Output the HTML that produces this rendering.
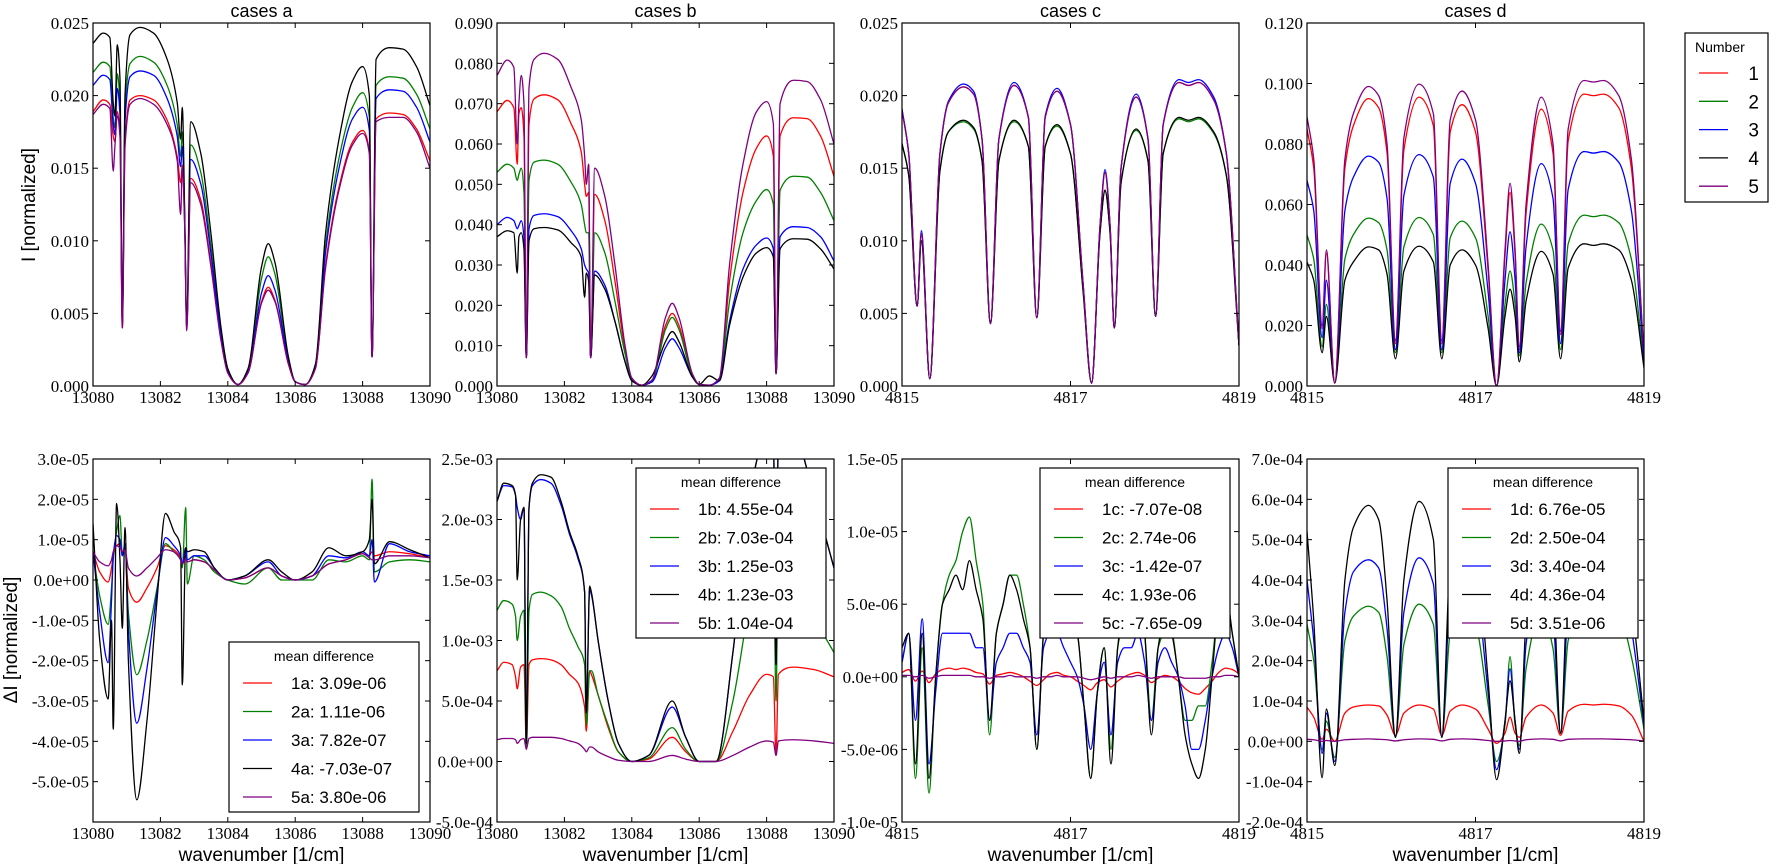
<!DOCTYPE html>
<html><head><meta charset="utf-8"><style>
html,body{margin:0;padding:0;background:#fff;}
svg{display:block;}
</style></head><body>
<svg id="fig" width="1770" height="864" viewBox="0 0 1770 864" xmlns="http://www.w3.org/2000/svg"></svg>
<script>
// ---------- DATA ----------
const xGridAB = [13080,13080.3,13080.5,13080.6,13080.65,13080.72,13080.8,13080.87,13080.95,13081.1,13081.4,13081.8,13082.2,13082.5,13082.6,13082.65,13082.72,13082.78,13082.9,13083.2,13083.5,13083.8,13084.0,13084.3,13084.6,13085.0,13085.2,13085.4,13085.8,13086.0,13086.3,13086.6,13086.9,13087.3,13087.7,13088.0,13088.2,13088.28,13088.4,13088.8,13089.2,13089.6,13090];
const topA_black = [0.0236,0.0243,0.024,0.0195,0.0186,0.0235,0.0212,0.0045,0.02,0.0242,0.0247,0.0243,0.0225,0.0195,0.017,0.0192,0.012,0.0045,0.0182,0.016,0.0105,0.004,0.0012,0.0001,0.0012,0.0082,0.0098,0.0085,0.002,0.0003,0.0001,0.0015,0.0105,0.017,0.021,0.022,0.02,0.002,0.0225,0.0233,0.0232,0.022,0.0193];
const topA_green = [0.0216,0.0223,0.022,0.0185,0.0178,0.0215,0.0195,0.0043,0.019,0.0222,0.0227,0.0223,0.0207,0.018,0.0158,0.0175,0.0118,0.0042,0.0166,0.0147,0.0096,0.0037,0.0011,0.0001,0.0011,0.0074,0.0089,0.0077,0.0018,0.0003,0.0001,0.0014,0.0096,0.0157,0.0192,0.0202,0.0185,0.002,0.0207,0.0213,0.0212,0.0201,0.0177];
const topA_blue = [0.0207,0.0214,0.0211,0.018,0.0173,0.0205,0.0187,0.0042,0.0182,0.0213,0.0217,0.0214,0.0198,0.0172,0.0151,0.0165,0.0115,0.0041,0.0156,0.0139,0.0091,0.0035,0.001,0.0001,0.001,0.0064,0.0076,0.0066,0.0017,0.0003,0.0001,0.0013,0.0092,0.015,0.0184,0.0192,0.0176,0.002,0.0198,0.0204,0.0203,0.0192,0.0168];
const topA_red = [0.0189,0.0197,0.0194,0.0172,0.0168,0.0189,0.0175,0.004,0.0168,0.0197,0.02,0.0197,0.0183,0.0158,0.014,0.0152,0.0112,0.004,0.0143,0.0128,0.0084,0.0032,0.0009,0.0001,0.0009,0.0058,0.0068,0.0059,0.0015,0.0003,0.0001,0.0012,0.0083,0.0137,0.0168,0.0176,0.0162,0.002,0.0184,0.0188,0.0187,0.0177,0.0155];
const topA_purple = [0.0187,0.0194,0.0191,0.0148,0.0165,0.0186,0.0172,0.004,0.0165,0.0194,0.0198,0.0194,0.018,0.0155,0.0118,0.015,0.011,0.0038,0.014,0.0125,0.0082,0.0031,0.0009,0.0001,0.0009,0.0057,0.0066,0.0058,0.0015,0.0003,0.0001,0.0012,0.0081,0.0135,0.0166,0.0174,0.016,0.002,0.0182,0.0185,0.0185,0.0175,0.015];

const topB_purple = [0.077,0.0808,0.079,0.06,0.07,0.077,0.07,0.007,0.074,0.081,0.0825,0.081,0.074,0.066,0.057,0.05,0.055,0.007,0.054,0.047,0.03,0.01,0.002,0.0002,0.0015,0.017,0.0205,0.017,0.003,0.0004,0.0002,0.002,0.03,0.055,0.068,0.0705,0.065,0.003,0.07,0.0758,0.0755,0.071,0.06];
const topB_red = [0.068,0.0708,0.069,0.055,0.0675,0.069,0.062,0.007,0.065,0.0712,0.0722,0.071,0.065,0.058,0.05,0.047,0.048,0.007,0.0475,0.041,0.026,0.009,0.0018,0.0002,0.0013,0.015,0.018,0.015,0.0027,0.0004,0.0002,0.0018,0.026,0.048,0.059,0.062,0.057,0.003,0.062,0.0665,0.0663,0.062,0.052];
const topB_green = [0.053,0.055,0.054,0.051,0.0525,0.054,0.048,0.007,0.051,0.0555,0.056,0.055,0.0505,0.045,0.04,0.038,0.038,0.007,0.038,0.033,0.021,0.008,0.0016,0.0002,0.0012,0.014,0.017,0.014,0.0025,0.0004,0.0002,0.0016,0.021,0.038,0.046,0.0487,0.045,0.003,0.0485,0.052,0.0518,0.048,0.041];
const topB_blue = [0.04,0.0418,0.041,0.039,0.0398,0.041,0.037,0.007,0.039,0.0423,0.0427,0.042,0.0385,0.034,0.03,0.029,0.028,0.007,0.0285,0.025,0.016,0.006,0.0013,0.0002,0.001,0.0095,0.0117,0.0095,0.0022,0.0004,0.0002,0.0013,0.016,0.029,0.035,0.0367,0.034,0.003,0.037,0.0395,0.0393,0.037,0.031];
const topB_black = [0.037,0.0385,0.038,0.028,0.037,0.038,0.034,0.007,0.036,0.039,0.0393,0.0387,0.0355,0.032,0.022,0.028,0.026,0.007,0.0275,0.024,0.016,0.006,0.0013,0.0002,0.0025,0.011,0.0135,0.011,0.0022,0.0004,0.0025,0.0013,0.015,0.027,0.033,0.0343,0.032,0.003,0.034,0.0365,0.0364,0.034,0.029];

const xGridCD = [4815,4815.08,4815.18,4815.23,4815.33,4815.45,4815.55,4815.73,4815.85,4815.95,4816.05,4816.15,4816.33,4816.5,4816.6,4816.7,4816.84,4817.0,4817.15,4817.25,4817.35,4817.41,4817.47,4817.52,4817.6,4817.78,4817.92,4818.01,4818.1,4818.29,4818.4,4818.52,4818.7,4818.85,4819];
const topC_red = [0.019,0.016,0.0055,0.0105,0.0005,0.016,0.0195,0.0206,0.0201,0.017,0.0043,0.017,0.0207,0.0185,0.0047,0.0185,0.0203,0.018,0.007,0.0002,0.011,0.0147,0.011,0.004,0.015,0.0199,0.017,0.0048,0.018,0.0209,0.0207,0.0209,0.0197,0.016,0.0028];
const topC_blue = [0.0191,0.016,0.0055,0.0107,0.0005,0.016,0.0196,0.0208,0.0203,0.017,0.0043,0.017,0.0209,0.0185,0.0047,0.0186,0.0205,0.018,0.007,0.0002,0.011,0.0149,0.011,0.004,0.015,0.0201,0.017,0.0048,0.018,0.0211,0.0209,0.0211,0.0199,0.016,0.0028];
const topC_purple = [0.019,0.016,0.0055,0.0105,0.0005,0.016,0.0195,0.0206,0.0201,0.017,0.0043,0.017,0.0207,0.0185,0.0047,0.0185,0.0203,0.018,0.007,0.0002,0.011,0.0147,0.011,0.004,0.015,0.0199,0.017,0.0048,0.018,0.0209,0.0207,0.0209,0.0197,0.016,0.0028];
const topC_green = [0.0167,0.0145,0.0055,0.01,0.0005,0.0148,0.0175,0.0182,0.0177,0.0155,0.0043,0.0155,0.0182,0.0165,0.0047,0.0165,0.0179,0.016,0.0065,0.0002,0.0105,0.0134,0.0105,0.004,0.014,0.0176,0.0155,0.0048,0.016,0.0184,0.0182,0.0184,0.0174,0.0145,0.0028];
const topC_black = [0.0167,0.0145,0.0055,0.01,0.0005,0.0148,0.0175,0.0183,0.0178,0.0155,0.0043,0.0155,0.0183,0.0165,0.0047,0.0165,0.018,0.016,0.0065,0.0002,0.0105,0.0135,0.0105,0.004,0.014,0.0177,0.0155,0.0048,0.016,0.0185,0.0183,0.0185,0.0175,0.0145,0.0028];

const topD_purple = [0.089,0.075,0.02,0.045,0.001,0.075,0.09,0.099,0.096,0.08,0.015,0.082,0.0998,0.09,0.015,0.088,0.0975,0.088,0.04,0.0,0.045,0.067,0.045,0.013,0.06,0.0955,0.08,0.018,0.085,0.101,0.1005,0.101,0.096,0.075,0.01];
const topD_red = [0.085,0.072,0.019,0.044,0.001,0.072,0.086,0.095,0.092,0.077,0.014,0.078,0.0955,0.086,0.014,0.084,0.093,0.084,0.038,0.0,0.043,0.064,0.043,0.012,0.057,0.0915,0.077,0.017,0.081,0.0965,0.096,0.0965,0.092,0.072,0.01];
const topD_blue = [0.068,0.058,0.016,0.035,0.001,0.058,0.069,0.076,0.074,0.062,0.012,0.063,0.0765,0.069,0.012,0.067,0.075,0.067,0.031,0.0,0.035,0.051,0.035,0.011,0.046,0.0735,0.062,0.014,0.065,0.0775,0.077,0.0775,0.074,0.058,0.008];
const topD_green = [0.05,0.042,0.013,0.027,0.001,0.042,0.05,0.0555,0.054,0.045,0.011,0.046,0.0557,0.05,0.011,0.049,0.0545,0.049,0.023,0.0,0.027,0.038,0.027,0.01,0.034,0.0535,0.045,0.012,0.047,0.0565,0.056,0.0565,0.054,0.042,0.007];
const topD_black = [0.041,0.035,0.011,0.023,0.001,0.035,0.041,0.046,0.045,0.037,0.009,0.038,0.0462,0.041,0.009,0.04,0.045,0.04,0.019,0.0,0.023,0.032,0.023,0.008,0.028,0.0445,0.037,0.009,0.039,0.047,0.0465,0.047,0.045,0.035,0.006];

const xGridDiffAB = [13080,13080.2,13080.45,13080.55,13080.6,13080.7,13080.8,13080.87,13080.95,13081.05,13081.3,13081.6,13081.9,13082.15,13082.4,13082.6,13082.65,13082.75,13082.8,13083.0,13083.3,13083.6,13084.0,13084.5,13085.2,13085.6,13086.0,13086.5,13087.0,13087.5,13088.0,13088.2,13088.28,13088.35,13088.8,13089.4,13090];
const diffA_red = [0.7,0.2,-0.05,0.3,0.6,0.85,0.9,0.7,0.8,-0.2,-0.55,-0.2,0.3,0.85,0.75,0.55,0.4,0.6,0.45,0.5,0.45,0.25,0.0,0.05,0.3,0.1,0.0,0.1,0.4,0.5,0.65,0.6,0.7,0.6,0.7,0.65,0.55];
const diffA_green = [0.7,-0.4,-1.1,-0.2,0.5,1.2,1.6,0.6,0.8,-0.8,-2.35,-1.5,-0.2,0.9,0.7,0.5,0.3,1.8,-0.1,0.6,0.5,0.2,0.0,-0.1,0.3,0.0,0.0,0.0,0.5,0.45,0.6,0.5,2.5,0.2,0.45,0.5,0.45];
const diffA_blue = [0.7,-0.8,-2.05,-0.5,0.6,1.1,1.0,0.6,0.9,-1.2,-3.55,-2.2,-0.3,1.05,0.85,0.6,0.4,0.8,0.5,0.6,0.6,0.3,0.0,0.1,0.45,0.1,0.0,0.1,0.6,0.55,0.7,0.6,1.0,-0.05,0.9,0.7,0.6];
const diffA_black = [1.4,-1.5,-2.95,-1.0,-3.7,1.9,0.5,-1.2,1.3,-2.0,-5.45,-3.5,-0.5,1.65,1.2,0.8,-2.6,0.8,0.7,0.75,0.7,0.3,0.0,0.1,0.5,0.2,0.0,0.2,0.8,0.6,0.7,1.0,2.0,0.4,0.95,0.75,0.55];
const diffA_purple = [0.7,0.45,0.35,0.5,0.7,0.85,0.8,0.7,0.75,0.3,0.1,0.3,0.55,0.75,0.7,0.5,0.4,0.5,0.45,0.5,0.45,0.25,0.0,0.05,0.3,0.1,0.0,0.1,0.4,0.5,0.65,0.55,0.5,0.5,0.6,0.6,0.55];
const diffB_red = [0.75,0.82,0.8,0.7,0.6,0.78,0.8,0.12,0.8,0.84,0.85,0.84,0.8,0.72,0.65,0.45,0.25,0.75,0.72,0.55,0.28,0.08,0.0,0.02,0.2,0.08,0.0,0.0,0.25,0.55,0.72,0.7,0.05,0.72,0.78,0.76,0.7];
const diffB_green = [1.25,1.33,1.3,1.2,1.0,1.2,1.25,0.1,1.25,1.38,1.4,1.37,1.28,1.1,0.95,0.8,0.3,0.75,0.75,0.55,0.3,0.08,0.0,0.03,0.28,0.1,0.0,0.0,0.5,1.3,1.8,1.8,0.5,1.9,1.6,1.2,0.9];
const diffB_blue = [2.15,2.28,2.27,2.2,2.1,2.0,2.1,0.15,2.1,2.28,2.33,2.3,2.12,1.88,1.68,1.4,0.4,1.42,1.38,1.0,0.5,0.15,0.0,0.05,0.45,0.2,0.0,0.0,0.9,2.2,2.7,2.7,0.8,2.7,2.7,2.2,1.6];
const diffB_black = [2.15,2.3,2.28,2.2,1.5,2.0,2.1,0.15,2.1,2.3,2.37,2.35,2.15,1.9,1.7,1.4,0.4,1.45,1.4,1.0,0.5,0.15,0.0,0.05,0.5,0.2,0.0,0.0,0.9,2.2,2.7,2.7,0.8,2.7,2.7,2.2,1.6];
const diffB_purple = [0.18,0.19,0.19,0.18,0.15,0.18,0.19,0.1,0.19,0.2,0.2,0.2,0.19,0.17,0.15,0.1,0.08,0.12,0.12,0.08,0.04,0.01,0.0,0.0,0.05,0.02,0.0,0.0,0.05,0.12,0.17,0.16,0.05,0.17,0.18,0.17,0.15];

const xGridDiffC = [4815,4815.08,4815.16,4815.24,4815.32,4815.4,4815.48,4815.56,4815.64,4815.72,4815.8,4815.88,4815.96,4816.04,4816.12,4816.2,4816.28,4816.36,4816.44,4816.52,4816.6,4816.68,4816.76,4816.84,4816.92,4817,4817.08,4817.16,4817.24,4817.32,4817.4,4817.48,4817.56,4817.64,4817.72,4817.8,4817.88,4817.96,4818.04,4818.12,4818.2,4818.28,4818.36,4818.44,4818.52,4818.6,4818.68,4818.76,4818.84,4818.92,4819];
const diffC_red = [0.3,0.5,-0.3,0.4,-0.4,0.2,0.5,0.6,0.5,0.6,0.5,0.3,0.2,-0.5,0.1,0.2,0.3,0.2,0,-0.3,-0.6,-0.2,0.2,0.3,0.1,0,-0.3,-0.6,-0.9,-0.4,-0.2,-0.7,-0.3,0,0.2,0.3,0.1,-0.4,-0.1,0.1,0,-0.3,-0.8,-1.1,-1.2,-0.8,-0.3,0.3,0.6,0.5,0.2];
const diffC_green = [1,3,-7,2,-8,0,5,7,8,10,11,8,5,-4,3,5,7,7,5,2,-5,3,6,8,6,4,3,-2,-7,-1,2,-5,2,4,5,6,3,-3,2,3,3,0,-3,-3,-2,-2,1,5,6,3,0];
const diffC_blue = [1,3,-3,4,-6,-1,3,3,3,3,3,2,2,-3,1,2,3,3,2,1,-4,2,3,3,2,1,0,-2,-5,-1,1,-4,1,2,2,3,1,-3,1,2,1,0,-2,-5,-5,-3,0,2,3,2,0];
const diffC_black = [2,3,-6,3,-7,0,5,6,7,6,8,6,4,-3,3,5,7,6,4,2,-5,3,6,7,5,4,3,-2,-7,-1,2,-6,2,5,5,6,3,-4,2,4,3,0,-4,-6,-7,-5,0,5,6,3,0];
const diffC_purple = [0.1,0.1,0,0.1,-0.1,0,0.1,0.1,0.1,0.1,0.1,0,0,-0.1,0,0,0.1,0,0,0,-0.1,0,0,0.1,0,0,0,-0.1,-0.2,-0.1,0,-0.1,0,0,0,0.1,0,-0.1,0,0,0,0,-0.1,-0.1,-0.1,-0.1,0,0,0.1,0.1,0];
const diffD_red = [0.85,0.6,0.05,0.3,0.0,0.7,0.85,0.9,0.88,0.65,0.15,0.7,0.9,0.8,0.15,0.75,0.9,0.8,0.3,-0.05,0.2,0.6,0.2,0.1,0.6,0.9,0.7,0.15,0.75,0.92,0.9,0.92,0.88,0.65,0.0];
const diffD_green = [2.9,2.0,-0.2,0.5,-0.4,2.5,3.1,3.35,3.2,2.1,0.1,2.4,3.4,2.9,0.1,2.7,3.35,2.9,0.9,-0.5,0.4,2.1,0.4,-0.1,1.8,3.2,2.3,0.2,2.5,3.45,3.35,3.45,3.2,2.1,0.3];
const diffD_blue = [4.0,2.5,-0.3,0.7,-0.5,3.2,4.2,4.5,4.3,2.8,0.1,3.2,4.55,3.9,0.1,3.6,4.5,3.9,1.2,-0.7,0.5,1.8,0.5,-0.2,2.4,4.3,3.1,0.2,3.3,4.6,4.5,4.6,4.3,2.8,0.4];
const diffD_black = [5.2,3.0,-0.9,0.8,-0.6,4.0,5.3,5.85,5.5,3.5,0.1,4.0,5.95,5.0,0.1,4.5,5.8,5.0,1.5,-0.95,0.5,1.5,0.5,-0.3,3.0,5.5,4.0,0.2,4.2,6.0,5.8,6.0,5.5,3.5,0.5];
const diffD_purple = [0.05,0.04,0.0,0.02,0.0,0.04,0.05,0.06,0.05,0.04,0.01,0.04,0.06,0.05,0.01,0.05,0.06,0.05,0.02,0.0,0.01,0.02,0.01,0.0,0.04,0.06,0.05,0.01,0.05,0.06,0.06,0.06,0.05,0.04,0.01];

const xTicksAB = [13080,13082,13084,13086,13088,13090];
const xTicksCD = [4815,4817,4819];
const yTicksTopA = [0,0.005,0.01,0.015,0.02,0.025];
const yLabelsTopA = ["0.000","0.005","0.010","0.015","0.020","0.025"];
const yTicksTopB = [0,0.01,0.02,0.03,0.04,0.05,0.06,0.07,0.08,0.09];
const yLabelsTopB = ["0.000","0.010","0.020","0.030","0.040","0.050","0.060","0.070","0.080","0.090"];
const yTicksTopD = [0,0.02,0.04,0.06,0.08,0.1,0.12];
const yLabelsTopD = ["0.000","0.020","0.040","0.060","0.080","0.100","0.120"];
const yTicksDiffA = [-5,-4,-3,-2,-1,0,1,2,3];
const yLabelsDiffA = ["-5.0e-05","-4.0e-05","-3.0e-05","-2.0e-05","-1.0e-05","0.0e+00","1.0e-05","2.0e-05","3.0e-05"];
const yTicksDiffB = [-0.5,0,0.5,1,1.5,2,2.5];
const yLabelsDiffB = ["-5.0e-04","0.0e+00","5.0e-04","1.0e-03","1.5e-03","2.0e-03","2.5e-03"];
const yTicksDiffC = [-10,-5,0,5,10,15];
const yLabelsDiffC = ["-1.0e-05","-5.0e-06","0.0e+00","5.0e-06","1.0e-05","1.5e-05"];
const yTicksDiffD = [-2,-1,0,1,2,3,4,5,6,7];
const yLabelsDiffD = ["-2.0e-04","-1.0e-04","0.0e+00","1.0e-04","2.0e-04","3.0e-04","4.0e-04","5.0e-04","6.0e-04","7.0e-04"];
const legendMeanA = ["1a: 3.09e-06","2a: 1.11e-06","3a: 7.82e-07","4a: -7.03e-07","5a: 3.80e-06"];
const legendMeanB = ["1b: 4.55e-04","2b: 7.03e-04","3b: 1.25e-03","4b: 1.23e-03","5b: 1.04e-04"];
const legendMeanC = ["1c: -7.07e-08","2c: 2.74e-06","3c: -1.42e-07","4c: 1.93e-06","5c: -7.65e-09"];
const legendMeanD = ["1d: 6.76e-05","2d: 2.50e-04","3d: 3.40e-04","4d: 4.36e-04","5d: 3.51e-06"];
const seriesNumbers = ["1","2","3","4","5"];

// ---------- DRAW ----------
const NS = "http://www.w3.org/2000/svg";
const svg = document.getElementById("fig");
const COL = {red:"#ff0000",green:"#008000",blue:"#0000ff",black:"#000000",purple:"#800080"};
const ORDER = ["red","green","blue","black","purple"];
function mk(tag, attrs, parent){
  const e = document.createElementNS(NS, tag);
  for (const k in attrs) e.setAttribute(k, attrs[k]);
  (parent||svg).appendChild(e);
  return e;
}
const defs = mk("defs", {});
let clipN = 0;

// monotone cubic (Fritsch-Carlson) path through pixel points
function smoothPath(px, py){
  const n = px.length;
  if (n < 3) return "M" + px.map((x,i)=>x+","+py[i]).join("L");
  const dx = [], s = [];
  for (let i = 0; i < n-1; i++){ dx.push(px[i+1]-px[i]); s.push((py[i+1]-py[i])/(px[i+1]-px[i])); }
  const m = new Array(n);
  m[0] = s[0]; m[n-1] = s[n-2];
  for (let i = 1; i < n-1; i++){
    if (s[i-1]*s[i] <= 0) m[i] = 0;
    else {
      const w1 = 2*dx[i] + dx[i-1], w2 = dx[i] + 2*dx[i-1];
      m[i] = (w1 + w2) / (w1/s[i-1] + w2/s[i]);
    }
  }
  let d = "M" + px[0].toFixed(2) + "," + py[0].toFixed(2);
  for (let i = 0; i < n-1; i++){
    const h = dx[i]/3;
    d += "C" + (px[i]+h).toFixed(2) + "," + (py[i]+m[i]*h).toFixed(2) + " " +
         (px[i+1]-h).toFixed(2) + "," + (py[i+1]-m[i+1]*h).toFixed(2) + " " +
         px[i+1].toFixed(2) + "," + py[i+1].toFixed(2);
  }
  return d;
}

function panel(opt){
  const L = opt.left, R = opt.left + 337, T = opt.top, B = opt.top + 363;
  const g = mk("g", {});
  
  
  const sx = v => L + (v - opt.xd[0]) / (opt.xd[1] - opt.xd[0]) * (R - L);
  const sy = v => B - (v - opt.yd[0]) / (opt.yd[1] - opt.yd[0]) * (B - T);
  const cid = "clip" + (clipN++);
  const cp = mk("clipPath", {id: cid}, defs);
  mk("rect", {x:L, y:T, width:R-L, height:B-T}, cp);
  const lg = mk("g", {"clip-path": "url(#" + cid + ")"}, g);
  ORDER.forEach(c => {
    const vals = opt.series[c];
    const px = opt.xs.map(sx), py = vals.map(sy);
    const p = mk("path", {d: smoothPath(px, py), fill: "none", stroke: COL[c], "stroke-width": 1.3, "stroke-linejoin": "round"}, lg);
    
    
  });
  const fr = mk("rect", {x:L, y:T, width:R-L, height:B-T, fill:"none", stroke:"#000", "stroke-width":1.2}, g);
  
  
  opt.xt.forEach(v => {
    const x = sx(v);
    mk("line", {x1:x, y1:B, x2:x, y2:B-5, stroke:"#000", "stroke-width":1}, g);
    mk("line", {x1:x, y1:T, x2:x, y2:T+5, stroke:"#000", "stroke-width":1}, g);
    const t = mk("text", {x:x, y:B+17, "text-anchor":"middle", "font-family":"Liberation Serif, serif", "font-size":17}, g);
    t.textContent = String(v);
    
    
  });
  opt.yt.forEach((v, i) => {
    const y = sy(v);
    mk("line", {x1:L, y1:y, x2:L+5, y2:y, stroke:"#000", "stroke-width":1}, g);
    mk("line", {x1:R, y1:y, x2:R-5, y2:y, stroke:"#000", "stroke-width":1}, g);
    const t = mk("text", {x:L-4, y:y+6, "text-anchor":"end", "font-family":"Liberation Serif, serif", "font-size":17}, g);
    t.textContent = opt.yl[i];
    
    
  });
  if (opt.title){
    const t = mk("text", {x:(L+R)/2, y:T-6, "text-anchor":"middle", "font-family":"Liberation Sans, sans-serif", "font-size":18}, g);
    t.textContent = opt.title;
    
    
  }
  if (opt.xlabel){
    const t = mk("text", {x:(L+R)/2, y:B+39, "text-anchor":"middle", "font-family":"Liberation Sans, sans-serif", "font-size":19}, g);
    t.textContent = opt.xlabel;
    
    
  }
  if (opt.legend){
    const lx = opt.legend.x, ly = opt.legend.y;
    const lgG = mk("g", {}, g);
    
    
    mk("rect", {x:lx, y:ly, width:190, height:170, fill:"#fff", stroke:"#000", "stroke-width":1.2}, lgG);
    const tt = mk("text", {x:lx+95, y:ly+19, "text-anchor":"middle", "font-family":"Liberation Sans, sans-serif", "font-size":14}, lgG);
    tt.textContent = "mean difference";
    ORDER.forEach((c, i) => {
      const yy = ly + 41 + i * 28.5;
      const ln = mk("line", {x1:lx+14, y1:yy, x2:lx+43, y2:yy, stroke:COL[c], "stroke-width":1.3}, lgG);
      
      
      const t = mk("text", {x:lx+62, y:yy+6, "font-family":"Liberation Sans, sans-serif", "font-size":17}, lgG);
      t.textContent = opt.legend.labels[i];
      
      
    });
  }
}

const lefts = [93, 497, 902, 1307];
panel({name:"panel-top-a", left:lefts[0], top:23, xd:[13080,13090], yd:[0,0.025], xs:xGridAB, xt:xTicksAB, yt:yTicksTopA, yl:yLabelsTopA, title:"cases a",
  series:{red:topA_red, green:topA_green, blue:topA_blue, black:topA_black, purple:topA_purple}});
panel({name:"panel-top-b", left:lefts[1], top:23, xd:[13080,13090], yd:[0,0.09], xs:xGridAB, xt:xTicksAB, yt:yTicksTopB, yl:yLabelsTopB, title:"cases b",
  series:{red:topB_red, green:topB_green, blue:topB_blue, black:topB_black, purple:topB_purple}});
panel({name:"panel-top-c", left:lefts[2], top:23, xd:[4815,4819], yd:[0,0.025], xs:xGridCD, xt:xTicksCD, yt:yTicksTopA, yl:yLabelsTopA, title:"cases c",
  series:{red:topC_red, green:topC_green, blue:topC_blue, black:topC_black, purple:topC_purple}});
panel({name:"panel-top-d", left:lefts[3], top:23, xd:[4815,4819], yd:[0,0.12], xs:xGridCD, xt:xTicksCD, yt:yTicksTopD, yl:yLabelsTopD, title:"cases d",
  series:{red:topD_red, green:topD_green, blue:topD_blue, black:topD_black, purple:topD_purple}});

panel({name:"panel-diff-a", left:lefts[0], top:459, xd:[13080,13090], yd:[-6,3], xs:xGridDiffAB, xt:xTicksAB, yt:yTicksDiffA, yl:yLabelsDiffA, xlabel:"wavenumber [1/cm]",
  series:{red:diffA_red, green:diffA_green, blue:diffA_blue, black:diffA_black, purple:diffA_purple}, legend:{x:229, y:642, labels:legendMeanA}});
panel({name:"panel-diff-b", left:lefts[1], top:459, xd:[13080,13090], yd:[-0.5,2.5], xs:xGridDiffAB, xt:xTicksAB, yt:yTicksDiffB, yl:yLabelsDiffB, xlabel:"wavenumber [1/cm]",
  series:{red:diffB_red, green:diffB_green, blue:diffB_blue, black:diffB_black, purple:diffB_purple}, legend:{x:636, y:468, labels:legendMeanB}});
panel({name:"panel-diff-c", left:lefts[2], top:459, xd:[4815,4819], yd:[-10,15], xs:xGridDiffC, xt:xTicksCD, yt:yTicksDiffC, yl:yLabelsDiffC, xlabel:"wavenumber [1/cm]",
  series:{red:diffC_red, green:diffC_green, blue:diffC_blue, black:diffC_black, purple:diffC_purple}, legend:{x:1040, y:468, labels:legendMeanC}});
panel({name:"panel-diff-d", left:lefts[3], top:459, xd:[4815,4819], yd:[-2,7], xs:xGridCD, xt:xTicksCD, yt:yTicksDiffD, yl:yLabelsDiffD, xlabel:"wavenumber [1/cm]",
  series:{red:diffD_red, green:diffD_green, blue:diffD_blue, black:diffD_black, purple:diffD_purple}, legend:{x:1448, y:468, labels:legendMeanD}});

const yt1 = mk("text", {x:0, y:0, transform:"translate(35,205) rotate(-90)", "text-anchor":"middle", "font-family":"Liberation Sans, sans-serif", "font-size":19});
yt1.textContent = "I [normalized]";


const yt2 = mk("text", {x:0, y:0, transform:"translate(17,640) rotate(-90)", "text-anchor":"middle", "font-family":"Liberation Sans, DejaVu Sans, sans-serif", "font-size":19});
yt2.textContent = "ΔI [normalized]";



const tl = mk("g", {});


mk("rect", {x:1685, y:33, width:83, height:169, fill:"#fff", stroke:"#000", "stroke-width":1.2}, tl);
const tlt = mk("text", {x:1695, y:52, "font-family":"Liberation Sans, sans-serif", "font-size":14}, tl);
tlt.textContent = "Number";
ORDER.forEach((c, i) => {
  const yy = 73 + i * 28.3;
  const ln = mk("line", {x1:1699, y1:yy, x2:1728, y2:yy, stroke:COL[c], "stroke-width":1.3}, tl);
  
  
  const t = mk("text", {x:1759, y:yy+7, "text-anchor":"end", "font-family":"Liberation Sans, sans-serif", "font-size":19}, tl);
  t.textContent = seriesNumbers[i];
  
  
});
</script>
</body></html>
